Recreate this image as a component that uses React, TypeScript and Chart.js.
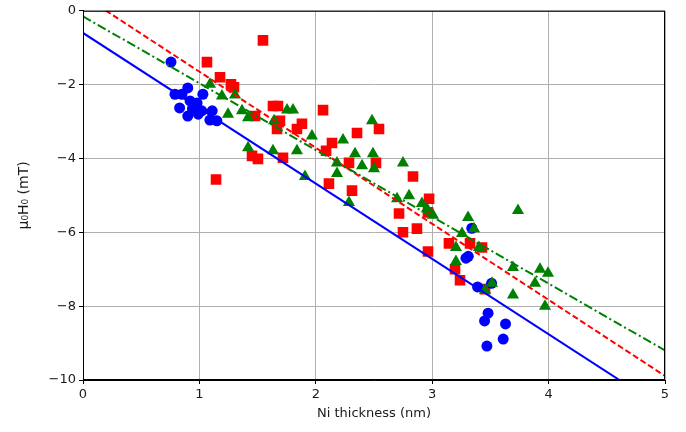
import React, { useEffect, useRef } from "react";
import { Chart, registerables } from "chart.js";

Chart.register(...registerables);

// Blue circles
const blueX = [0.756, 0.79, 0.85, 0.9, 1.03, 0.92, 0.98, 0.83, 0.94, 1.02, 1.11, 0.9, 0.99, 1.09, 1.15, 3.34, 3.31, 3.29, 3.39, 3.51, 3.48, 3.45, 3.63, 3.61, 3.47];
const blueY = [-1.39, -2.26, -2.26, -2.09, -2.26, -2.44, -2.5, -2.63, -2.66, -2.71, -2.71, -2.85, -2.8, -2.96, -2.98, -5.89, -6.65, -6.7, -7.48, -7.38, -8.19, -8.4, -8.48, -8.89, -9.08];

// Red squares
const redX = [1.546, 1.065, 1.177, 1.271, 1.297, 1.632, 1.675, 1.478, 1.692, 1.667, 1.881, 1.838, 2.062, 2.139, 2.088, 1.452, 1.503, 1.718, 1.143, 2.113, 2.354, 2.543, 2.285, 2.517, 2.835, 2.311, 2.973, 2.715, 2.749, 2.869, 2.964, 3.144, 3.325, 3.196, 3.239, 3.428, 3.454, 2.964];
const redY = [-0.8, -1.39, -1.8, -1.99, -2.07, -2.58, -2.58, -2.85, -2.98, -3.2, -3.06, -3.2, -2.69, -3.58, -3.79, -3.93, -4.01, -3.98, -4.57, -4.68, -3.31, -3.2, -4.12, -4.12, -4.49, -4.87, -5.09, -5.49, -6.0, -5.9, -6.52, -6.3, -6.3, -7.0, -7.3, -6.41, -7.54, -5.46];

// Green triangles
const greenX = [1.091, 1.194, 1.306, 1.246, 1.366, 1.418, 1.753, 1.804, 1.641, 1.967, 1.838, 1.418, 1.632, 1.907, 2.234, 2.483, 2.337, 2.491, 2.182, 2.182, 2.397, 2.5, 2.285, 2.749, 2.698, 2.801, 2.912, 2.955, 3.007, 3.308, 3.359, 3.256, 3.204, 3.402, 3.204, 3.454, 3.514, 3.694, 3.694, 3.737, 3.883, 3.926, 3.995, 3.969];
const greenY = [-1.99, -2.31, -2.28, -2.8, -2.71, -2.9, -2.69, -2.69, -2.98, -3.39, -3.79, -3.71, -3.79, -4.49, -3.5, -2.98, -3.87, -3.87, -4.12, -4.41, -4.2, -4.28, -5.19, -4.12, -5.09, -5.01, -5.22, -5.36, -5.54, -5.6, -5.9, -6.03, -6.41, -6.41, -6.79, -7.57, -7.38, -7.7, -6.95, -5.41, -7.38, -7.0, -7.11, -8.0];

// Fit line endpoints
const fitX = [0, 5];
const blueFitY = [-0.6, -10.8];
const redFitY = [0.41, -9.89];
const greenFitY = [-0.15, -9.2];

const xTicks = [0, 1, 2, 3, 4, 5];
const yTicks = [-10, -8, -6, -4, -2, 0];

const pts = (xs: number[], ys: number[]) => xs.map((x, i) => ({ x, y: ys[i] }));

const FONT = "'DejaVu Sans', sans-serif";

export default function App() {
  const ref = useRef<HTMLCanvasElement | null>(null);
  useEffect(() => {
    document.body.style.margin = "0";
    const frame = {
      id: "frame",
      afterDraw(chart: any) {
        const { ctx, chartArea: a } = chart;
        ctx.save();
        ctx.strokeStyle = "#000";
        ctx.lineWidth = 1;
        ctx.strokeRect(a.left + 0.5, a.top + 0.5, a.right - a.left - 1, a.bottom - a.top - 1);
        ctx.restore();
      },
    };
    const chart = new Chart(ref.current as HTMLCanvasElement, {
      type: "scatter",
      data: {
        datasets: [
          { type: "line", data: pts(fitX, greenFitY), borderColor: "#008000", borderWidth: 2, borderDash: [9, 3, 2, 3], pointRadius: 0, order: 0 },
          { type: "line", data: pts(fitX, redFitY), borderColor: "#ff0000", borderWidth: 2, borderDash: [6, 3], pointRadius: 0, order: 1 },
          { type: "line", data: pts(fitX, blueFitY), borderColor: "#0000ff", borderWidth: 2, pointRadius: 0, order: 2 },
          { data: pts(greenX, greenY), pointStyle: "triangle", pointRadius: 7, backgroundColor: "#008000", borderColor: "#008000", borderWidth: 0, order: 3 },
          { data: pts(blueX, blueY), pointStyle: "circle", pointRadius: 5.5, backgroundColor: "#0000ff", borderColor: "#0000ff", borderWidth: 0, order: 4 },
          { data: pts(redX, redY), pointStyle: "rect", pointRadius: 7.5, backgroundColor: "#ff0000", borderColor: "#ff0000", borderWidth: 0, order: 5 },
        ] as any,
      },
      options: {
        animation: false,
        responsive: false,
        maintainAspectRatio: false,
        layout: { padding: { top: 9, right: 21, left: 0, bottom: 0 } },
        plugins: { legend: { display: false }, tooltip: { enabled: false } },
        scales: {
          x: {
            type: "linear",
            min: 0,
            max: 5,
            afterBuildTicks: (s: any) => { s.ticks = xTicks.map((v) => ({ value: v })); },
            afterFit: (s: any) => { s.height = 52; },
            ticks: { color: "#1a1a1a", font: { family: FONT, size: 13 }, padding: 3, callback: (v: any) => String(v) },
            grid: { color: "#b0b0b0", lineWidth: 1, tickLength: 4, tickColor: "#000" },
            border: { color: "#000", width: 1 },
            title: { display: true, text: "Ni thickness (nm)", color: "#1a1a1a", font: { family: FONT, size: 13 }, padding: { top: 4, bottom: 11 } },
          },
          y: {
            type: "linear",
            min: -10,
            max: 0,
            afterBuildTicks: (s: any) => { s.ticks = yTicks.map((v) => ({ value: v })); },
            afterFit: (s: any) => { s.width = 83; },
            ticks: { color: "#1a1a1a", font: { family: FONT, size: 13 }, padding: 3, callback: (v: any) => String(v).replace("-", "\u2212") },
            grid: { color: "#b0b0b0", lineWidth: 1, tickLength: 4, tickColor: "#000" },
            border: { color: "#000", width: 1 },
            title: { display: true, text: "\u03bc\u2080H\u2080 (mT)", color: "#1a1a1a", font: { family: FONT, size: 14 }, padding: { top: 16, bottom: 4 } },
          },
        },
      } as any,
      plugins: [frame],
    });
    return () => chart.destroy();
  }, []);
  return (
    <div style={{ width: 686, height: 432 }}>
      <canvas ref={ref} width={686} height={432} style={{ display: "block" }} />
    </div>
  );
}
